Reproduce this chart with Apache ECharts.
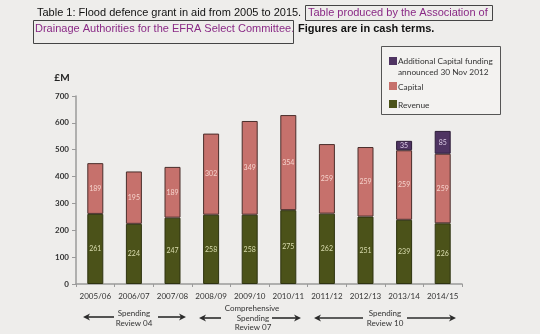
<!DOCTYPE html>
<html>
<head>
<meta charset="utf-8">
<script src="https://cdn.jsdelivr.net/npm/echarts@6/dist/echarts.min.js"></script>
<style>
html,body{margin:0;padding:0;background:#eeedeb;}
#c{width:540px;height:334px;}
</style>
</head>
<body>
<div id="c"></div>
<script>
const categories = ['2005/06','2006/07','2007/08','2008/09','2009/10','2010/11','2011/12','2012/13','2013/14','2014/15'];
const revenue = [261,224,247,258,258,275,262,251,239,226];
const capital = [189,195,189,302,349,354,259,259,259,259];
const additional = [null,null,null,null,null,null,null,null,35,85];
const yTicks = [0,100,200,300,400,500,600,700];

const colRevenue = '#4b5219';
const colCapital = '#c6716c';
const colAdditional = '#4f3462';
const border = '#4a2e2b';
const chartFont = 'Lato';

const chart = echarts.init(document.getElementById('c'), null, {renderer:'canvas'});

function arrow(x1, x2, y, headAt) {
  const hx = headAt === 'left' ? x1 : x2;
  const dir = headAt === 'left' ? 1 : -1;
  return [
    {type:'line', shape:{x1:x1 + (headAt==='left'?3:0), y1:y, x2:x2 - (headAt==='right'?3:0), y2:y}, style:{stroke:'#2b2b2b', lineWidth:1.6}},
    {type:'polygon', shape:{points:[[hx,y],[hx+dir*7,y-3.5],[hx+dir*5,y],[hx+dir*7,y+3.5]]}, style:{fill:'#2b2b2b'}}
  ];
}
function ctext(x, y, t) {
  return {type:'text', x:x, y:y, style:{text:t, font:'8px ' + chartFont, fill:'#333', align:'center', verticalAlign:'middle'}};
}

const titleFont = '11px "Liberation Sans", Arial';
const graphics = [
  {type:'text', x:37, y:13, style:{text:'Table 1: Flood defence grant in aid from 2005 to 2015.', font:titleFont, fill:'#111', verticalAlign:'middle'}},
  {type:'text', x:308, y:13, style:{text:'Table produced by the Association of', font:titleFont, fill:'#8a2a86', verticalAlign:'middle'}},
  {type:'text', x:35, y:29, style:{text:'Drainage Authorities for the EFRA Select Committee.', font:titleFont, fill:'#8a2a86', verticalAlign:'middle'}},
  {type:'text', x:298, y:29, style:{text:'Figures are in cash terms.', font:'bold ' + titleFont, fill:'#111', verticalAlign:'middle'}},
  {type:'rect', shape:{x:305.5, y:5.5, width:187, height:15}, style:{fill:'none', stroke:'#444', lineWidth:1}},
  {type:'rect', shape:{x:33.5, y:20.5, width:260, height:23}, style:{fill:'none', stroke:'#444', lineWidth:1}},
  {type:'text', x:62, y:78, style:{text:'£M', font:'bold 10px ' + chartFont, fill:'#222', align:'center', verticalAlign:'middle'}},
  {type:'rect', shape:{x:381.5, y:46.5, width:119, height:68}, style:{fill:'#f3f2f0', stroke:'#555', lineWidth:1}},
  {type:'rect', shape:{x:389, y:57, width:8, height:8}, style:{fill:colAdditional}},
  {type:'text', x:398, y:61, style:{text:'Additional Capital funding', font:'8.3px ' + chartFont, fill:'#333', verticalAlign:'middle'}},
  {type:'text', x:398, y:72, style:{text:'announced 30 Nov 2012', font:'8.3px ' + chartFont, fill:'#333', verticalAlign:'middle'}},
  {type:'rect', shape:{x:389, y:82, width:8, height:8}, style:{fill:colCapital}},
  {type:'text', x:398, y:87, style:{text:'Capital', font:'8.3px ' + chartFont, fill:'#333', verticalAlign:'middle'}},
  {type:'rect', shape:{x:389, y:100, width:8, height:8}, style:{fill:colRevenue}},
  {type:'text', x:398, y:105, style:{text:'Revenue', font:'8.3px ' + chartFont, fill:'#333', verticalAlign:'middle'}},
  ...arrow(83, 114, 317, 'left'),
  ctext(134, 313, 'Spending'),
  ctext(134, 323, 'Review 04'),
  ...arrow(158, 186, 317, 'right'),
  ...arrow(199, 221, 318, 'left'),
  ctext(252, 308, 'Comprehensive'),
  ctext(253, 318, 'Spending'),
  ctext(253, 327, 'Review 07'),
  ...arrow(272, 301, 318, 'right'),
  ...arrow(314, 363, 318, 'left'),
  ctext(385, 313, 'Spending'),
  ctext(385, 323, 'Review 10'),
  ...arrow(407, 456, 318, 'right')
];

function labelFor(color) {
  return {show:true, position:'inside', fontSize:7, color:color, fontFamily:chartFont};
}

chart.setOption({
  backgroundColor:'#eeedeb',
  animation:false,
  grid:{left:76, right:78, top:96, bottom:50, containLabel:false},
  xAxis:{
    type:'category', data:categories, boundaryGap:true,
    axisLine:{lineStyle:{color:'#9a9a9a', width:1.5}},
    axisTick:{show:true, alignWithLabel:false, length:3, lineStyle:{color:'#9a9a9a'}},
    axisLabel:{color:'#333', fontSize:8, fontFamily:chartFont, margin:8, interval:0}
  },
  yAxis:{
    type:'value', min:0, max:700, interval:100,
    axisLine:{show:true, lineStyle:{color:'#9a9a9a', width:1.5}},
    axisTick:{show:true, length:4, lineStyle:{color:'#9a9a9a'}},
    splitLine:{show:false},
    axisLabel:{color:'#333', fontSize:8, fontFamily:chartFont, fontWeight:'bold', margin:7,
      formatter:function(v){ return yTicks.indexOf(v) >= 0 ? String(v) : ''; }}
  },
  series:[
    {name:'Revenue', type:'bar', stack:'t', data:revenue, barWidth:16,
      itemStyle:{color:colRevenue, borderColor:'#2e3310', borderWidth:1},
      label:labelFor('#d9dcae')},
    {name:'Capital', type:'bar', stack:'t', data:capital, barWidth:16,
      itemStyle:{color:colCapital, borderColor:border, borderWidth:1},
      label:labelFor('#f6d3cc')},
    {name:'Additional Capital funding announced 30 Nov 2012', type:'bar', stack:'t', data:additional, barWidth:16,
      itemStyle:{color:colAdditional, borderColor:'#2c1c38', borderWidth:1},
      label:labelFor('#dccde6')}
  ],
  graphic:graphics
});
</script>
</body>
</html>
